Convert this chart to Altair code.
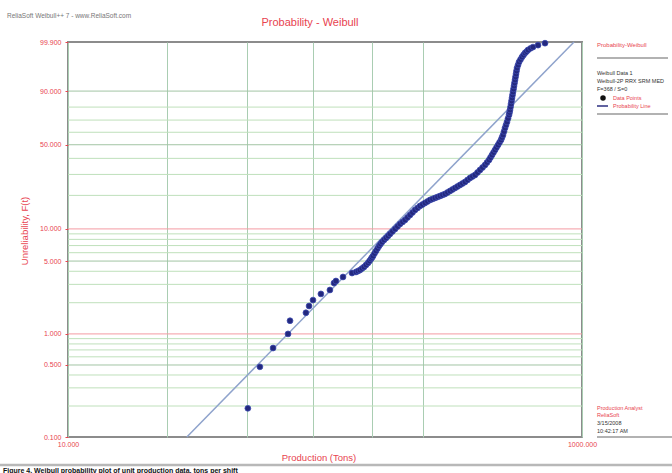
import math
import altair as alt
import pandas as pd

# Production per unit (tons) and median-rank unreliability F(t) in percent
prod_tons = [50.1, 55.8, 62.8, 71.8, 73.1, 84.3, 86.7, 89.8, 96.4, 104.5,
             108.4, 110.3, 117.5, 127.4, 132.0, 134.4, 136.8, 139.3, 141.8, 144.4,
             147.0, 149.0, 151.0, 152.4, 153.8, 155.8, 157.9, 160.1, 162.3, 164.4,
             166.7, 169.7, 172.8, 175.9, 179.0, 183.0, 187.3, 191.5, 195.8, 200.3,
             204.8, 209.4, 214.2, 219.0, 224.0, 229.1, 234.2, 239.6, 244.9, 250.5,
             256.2, 262.0, 267.9, 274.0, 280.3, 286.6, 293.1, 299.7, 306.5, 313.4,
             320.5, 327.8, 335.2, 342.8, 350.5, 358.5, 366.6, 374.9, 383.4, 392.1,
             400.9, 410.1, 419.4, 426.9, 434.6, 440.5, 446.5, 452.5, 458.7, 464.8,
             471.2, 477.5, 484.0, 488.3, 492.7, 497.2, 501.6, 506.2, 510.7, 515.3,
             520.0, 522.3, 524.6, 527.0, 529.3, 531.8, 534.1, 536.5, 538.9, 541.4,
             543.8, 546.2, 548.7, 551.2, 553.7, 556.1, 558.7, 563.6, 568.9, 576.4,
             584.2, 592.1, 600.1, 608.3, 616.5, 630.5, 644.7, 674.3, 717.8]
unrel_pct = [0.19, 0.48, 0.73, 1.00, 1.34, 1.60, 1.86, 2.12, 2.43, 2.65,
             3.09, 3.23, 3.53, 3.85, 3.94, 4.02, 4.11, 4.25, 4.39, 4.59,
             4.80, 5.01, 5.24, 5.41, 5.59, 5.90, 6.23, 6.58, 6.93, 7.24,
             7.56, 7.90, 8.24, 8.60, 8.98, 9.47, 9.98, 10.53, 11.10, 11.58,
             12.07, 12.72, 13.40, 14.11, 14.86, 15.49, 16.15, 16.64, 17.16, 17.68,
             18.24, 18.60, 18.99, 19.36, 19.75, 20.16, 20.56, 21.19, 21.82, 22.48,
             23.14, 23.84, 24.55, 25.26, 26.00, 27.02, 28.05, 28.87, 29.67, 31.09,
             32.54, 34.06, 35.62, 37.24, 38.90, 40.61, 42.36, 44.16, 46.01, 47.89,
             49.81, 51.76, 53.75, 55.76, 57.79, 60.64, 63.51, 65.98, 68.46, 71.27,
             74.05, 75.98, 77.87, 80.07, 82.18, 84.21, 86.11, 87.89, 89.53, 91.04,
             92.43, 93.67, 94.78, 95.75, 96.58, 97.30, 97.90, 98.39, 98.79, 99.06,
             99.28, 99.43, 99.55, 99.62, 99.69, 99.75, 99.79, 99.84, 99.88]

# Fitted Weibull-2P probability line, end points
fit_tons = [29.0, 931.0]
fit_pct = [0.1, 99.9]

# Axis ticks and grid
y_label_pct = [0.1, 0.5, 1, 5, 10, 50, 90, 99.9]
x_label_tons = [10, 1000]
x_grid_tons = [24.3, 49.8, 89.8, 152.5, 240.0]
grid_minor_pct = [0.2, 0.3, 0.4, 0.6, 0.7, 0.8, 0.9,
                  2, 3, 4, 6, 7, 8, 9,
                  20, 30, 40, 60, 70, 80]
grid_major_pct = [0.5, 5, 50, 90]
grid_red_pct = [1, 10]

RED = "#e8434f"
FONT = "Liberation Sans"
W, H = 514, 395


def weibull_y(p):
    return math.log(-math.log(1 - p / 100.0))


Y_MIN, Y_MAX = weibull_y(0.1), weibull_y(99.9)
WEIB = "log(-log(1 - datum.F / 100))"

x_scale = alt.Scale(type="log", domain=[10, 1000], nice=False)
y_scale = alt.Scale(domain=[Y_MIN, Y_MAX], nice=False, zero=False)

x_axis = alt.Axis(
    values=x_label_tons + x_grid_tons,
    labelExpr="datum.value == 10 || datum.value == 1000 ? format(datum.value, '.3f') : ''",
    grid=True, gridColor="#a9cdb2", gridWidth=1,
    ticks=False, domain=False, title=None,
    labelColor=RED, labelFont=FONT, labelFontSize=7, labelPadding=3,
    labelFlush=False, labelOverlap=False,
)
y_axis = alt.Axis(
    values=[weibull_y(p) for p in y_label_pct],
    labelExpr="format(100 * (1 - exp(-exp(datum.value))), '.3f')",
    grid=False, ticks=True, tickColor=RED, tickSize=3, domain=False, title=None,
    labelColor=RED, labelFont=FONT, labelFontSize=7, labelPadding=4,
    labelOverlap=False, labelFlush=False,
)

grid_df = pd.DataFrame({
    "F": grid_minor_pct + grid_major_pct + grid_red_pct,
    "kind": (["minor"] * len(grid_minor_pct) + ["major"] * len(grid_major_pct)
             + ["red"] * len(grid_red_pct)),
})
grid = alt.Chart(grid_df).transform_calculate(yw=WEIB).mark_rule(strokeWidth=1).encode(
    y=alt.Y("yw:Q", scale=y_scale, axis=y_axis),
    color=alt.Color("kind:N", legend=None,
                    scale=alt.Scale(domain=["minor", "major", "red"],
                                    range=["#bfe0bb", "#a2c4a4", "#f49aa3"])),
)

# invisible layer that carries the x axis and vertical grid
xgrid = alt.Chart(pd.DataFrame({"x": x_label_tons})).mark_point(opacity=0).encode(
    x=alt.X("x:Q", scale=x_scale, axis=x_axis),
)

fit_df = pd.DataFrame({"x": fit_tons, "F": fit_pct})
fit_line = alt.Chart(fit_df).transform_calculate(yw=WEIB).mark_line(
    color="#8fa3cc", strokeWidth=1.5).encode(
    x=alt.X("x:Q", scale=x_scale),
    y=alt.Y("yw:Q", scale=y_scale),
)

pts_df = pd.DataFrame({"x": prod_tons, "F": unrel_pct})
points = alt.Chart(pts_df).transform_calculate(yw=WEIB).mark_circle(
    size=34, color="#23287e", opacity=1, stroke="#3d4bb0", strokeWidth=0.8).encode(
    x=alt.X("x:Q", scale=x_scale),
    y=alt.Y("yw:Q", scale=y_scale),
)


def label(txt, x, y, color="#333333", size=6, align="left", angle=0, weight="normal"):
    # x, y are page pixels; the plot origin sits at (68, 42)
    return alt.Chart(pd.DataFrame({"t": [txt]})).mark_text(
        align=align, baseline="middle", font=FONT, fontSize=size, color=color,
        angle=angle, fontWeight=weight,
    ).encode(x=alt.value(x - 68), y=alt.value(y - 42), text="t:N")


def hline(x1, x2, y, color="#555555", width=1.0):
    return alt.Chart(pd.DataFrame({"a": [0]})).mark_rule(
        color=color, strokeWidth=width).encode(
        x=alt.value(x1 - 68), x2=alt.value(x2 - 68), y=alt.value(y - 42))


legend_dot = alt.Chart(pd.DataFrame({"a": [0]})).mark_circle(
    size=30, color="#111111", opacity=1).encode(x=alt.value(603 - 68), y=alt.value(98 - 42))

texts = [
    label("ReliaSoft Weibull++ 7 - www.ReliaSoft.com", 7, 16, "#777777", 6.5),
    label("Probability - Weibull", 310, 23, RED, 11, "center"),
    label("Unreliability, F(t)", 25, 231, RED, 9.5, "center", 270),
    label("Production (Tons)", 319, 458, RED, 9.5, "center"),
    label("Probability-Weibull", 597, 45, RED, 6),
    label("Weibull Data 1", 597, 73, "#333333", 5.5),
    label("Weibull-2P RRX SRM MED", 597, 81, "#333333", 5.5),
    label("F=368 / S=0", 597, 89, "#333333", 5.5),
    label("Data Points", 613, 98, RED, 5.5),
    label("Probability Line", 613, 106, RED, 5.5),
    label("Production Analyst", 597, 408, RED, 5.5),
    label("ReliaSoft", 597, 415, RED, 5.5),
    label("3/15/2008", 597, 423, "#333333", 5.5),
    label("10:42:17 AM", 597, 431, "#333333", 5.5),
    label("Figure 4. Weibull probability plot of unit production data, tons per shift", 3, 471,
          "#111111", 7, weight="bold"),
]
rules = [
    hline(597, 668, 58, "#666666", 1.2),
    hline(597, 668, 114, "#666666", 1.2),
    hline(597, 672, 437, "#666666", 1.2),
    hline(597, 608, 106, "#2c2f80", 1.5),
    hline(0, 672, 465, "#b8b8b8", 2.5),
]

chart = alt.layer(
    grid, xgrid, fit_line, points, legend_dot, *rules, *texts,
).properties(
    width=W, height=H,
    autosize=alt.AutoSizeParams(type="none"),
    padding={"left": 68, "top": 42, "right": 90, "bottom": 36},
    background="white",
).configure_view(stroke="#8c8c8c", strokeWidth=2)

chart.save("out.html", embed_options={"renderer": "svg", "actions": False})
